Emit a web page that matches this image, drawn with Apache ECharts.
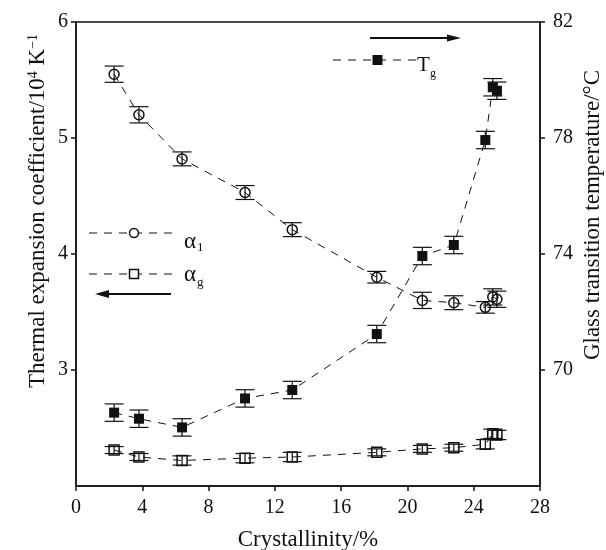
<!DOCTYPE html>
<html>
<head>
<meta charset="utf-8">
<script src="https://cdn.jsdelivr.net/npm/echarts@6/dist/echarts.min.js"></script>
<style>
  html, body { margin: 0; padding: 0; background: #fff; }
  #container { width: 606px; height: 550px; }
</style>
</head>
<body>
<div id="container"></div>
<script>
// crystallinity (%) of the samples
var crystallinity = [2.3, 3.8, 6.4, 10.2, 13.05, 18.15, 20.9, 22.8, 24.7, 25.15, 25.4];
// thermal expansion coefficient above Tg (alpha_l) and below Tg (alpha_g)
var alphaL = [5.55, 5.20, 4.82, 4.53, 4.21, 3.80, 3.60, 3.58, 3.54, 3.63, 3.61];
var alphaLErr = [0.07, 0.07, 0.06, 0.06, 0.06, 0.05, 0.07, 0.06, 0.05, 0.07, 0.07];
var alphaG = [2.31, 2.25, 2.22, 2.24, 2.25, 2.29, 2.32, 2.33, 2.36, 2.45, 2.44];
var alphaGErr = [0.03, 0.03, 0.04, 0.04, 0.04, 0.03, 0.03, 0.03, 0.04, 0.04, 0.04];
// glass transition temperature
var tg = [68.53, 68.32, 68.02, 69.02, 69.31, 71.24, 73.93, 74.31, 77.93, 79.75, 79.63];
var tgErr = [0.3, 0.3, 0.3, 0.3, 0.3, 0.3, 0.3, 0.3, 0.3, 0.3, 0.3];

var xTicks = { min: 0, max: 28, interval: 4 };
var leftTicks = { min: 2, max: 6, interval: 1 };
var rightTicks = { min: 66, max: 82, interval: 4 };

var font = 'Liberation Serif';
var ink = '#111';
var dash = [8, 7];

var dom = document.getElementById('container');
var myChart = echarts.init(dom);

function pairs(vals) {
  return crystallinity.map(function (x, i) { return [x, vals[i]]; });
}

function errBars(vals, errs, yIdx) {
  return {
    type: 'custom',
    yAxisIndex: yIdx,
    silent: true,
    z: 3,
    renderItem: function (params, api) {
      var x = api.value(0);
      var top = api.coord([x, api.value(2)]);
      var bot = api.coord([x, api.value(1)]);
      var w = 9.5;
      var st = { stroke: ink, lineWidth: 1.2 };
      return {
        type: 'group',
        children: [
          { type: 'line', shape: { x1: top[0], y1: top[1], x2: bot[0], y2: bot[1] }, style: st },
          { type: 'line', shape: { x1: top[0] - w, y1: top[1], x2: top[0] + w, y2: top[1] }, style: st },
          { type: 'line', shape: { x1: bot[0] - w, y1: bot[1], x2: bot[0] + w, y2: bot[1] }, style: st }
        ]
      };
    },
    data: crystallinity.map(function (x, i) { return [x, vals[i] - errs[i], vals[i] + errs[i]]; })
  };
}

function lineSeries(vals, yIdx, symbol, filled) {
  return {
    type: 'line',
    yAxisIndex: yIdx,
    data: pairs(vals),
    symbol: symbol,
    symbolSize: 10,
    z: 4,
    lineStyle: { color: ink, width: 1, type: dash },
    itemStyle: {
      color: filled ? ink : 'none',
      borderColor: ink,
      borderWidth: filled ? 0 : 1.5
    },
    emphasis: { disabled: true }
  };
}

// legend pieces drawn by hand like the original figure
function legendRow(y, markerType) {
  var items = [
    { type: 'line', shape: { x1: 89, y1: y, x2: 173, y2: y }, style: { stroke: ink, lineWidth: 1, lineDash: dash } }
  ];
  if (markerType === 'circle') {
    items.push({ type: 'circle', shape: { cx: 134, cy: y, r: 4.5 }, style: { fill: '#fff', stroke: ink, lineWidth: 1.5 } });
  } else {
    items.push({ type: 'rect', shape: { x: 129.5, y: y - 4.5, width: 9, height: 9 }, style: { fill: '#fff', stroke: ink, lineWidth: 1.5 } });
  }
  return items;
}

function txt(x, y, s, size, extra) {
  var style = { text: s, fontFamily: font, fontSize: size, fill: ink, verticalAlign: 'middle' };
  return Object.assign({ type: 'text', x: x, y: y, style: Object.assign(style, extra || {}) });
}

var graphics = [].concat(
  legendRow(233, 'circle'),
  legendRow(274, 'square'),
  [
    txt(184, 242, 'α', 23),
    txt(197, 248, '1', 13),
    txt(184, 275, 'α', 23),
    txt(197, 283, 'g', 13),
    // left arrow
    { type: 'line', shape: { x1: 171, y1: 294, x2: 104, y2: 294 }, style: { stroke: ink, lineWidth: 2 } },
    { type: 'polygon', shape: { points: [[95, 294], [109, 290], [109, 298]] }, style: { fill: ink } },
    // Tg legend
    { type: 'line', shape: { x1: 333, y1: 60, x2: 417, y2: 60 }, style: { stroke: ink, lineWidth: 1, lineDash: dash } },
    { type: 'rect', shape: { x: 372.5, y: 55, width: 10, height: 10 }, style: { fill: ink } },
    txt(417, 65, 'T', 21),
    txt(430, 74, 'g', 12),
    // right arrow
    { type: 'line', shape: { x1: 370, y1: 38, x2: 452, y2: 38 }, style: { stroke: ink, lineWidth: 2 } },
    { type: 'polygon', shape: { points: [[461, 38], [447, 34.5], [447, 41.5]] }, style: { fill: ink } }
  ]
);

// axis names
var leftName = txt(38, 211, 'Thermal expansion coefficient/10{s|4} K{s|−1}', 23, {
  align: 'center',
  rich: { s: { fontFamily: font, fontSize: 14, lineHeight: 14, verticalAlign: 'top', fill: ink } }
});
leftName.rotation = Math.PI / 2;
var rightName = txt(593, 215, 'Glass transition temperature/°C', 23, { align: 'center' });
rightName.rotation = Math.PI / 2;
var bottomName = txt(308, 540, 'Crystallinity/%', 23, { align: 'center' });
graphics.push(leftName, rightName, bottomName);

var axisCommon = {
  axisLine: { show: true, lineStyle: { color: ink, width: 1.5 } },
  axisTick: { show: true, length: 5, lineStyle: { color: ink, width: 1.5 } },
  splitLine: { show: false },
  axisLabel: { color: ink, fontFamily: font, fontSize: 20 }
};

var option = {
  animation: false,
  backgroundColor: '#fff',
  grid: { left: 76, right: 66, top: 22, bottom: 64, show: true, borderColor: ink, borderWidth: 1.5 },
  xAxis: Object.assign({}, axisCommon, {
    type: 'value', min: xTicks.min, max: xTicks.max, interval: xTicks.interval,
    axisLabel: Object.assign({}, axisCommon.axisLabel, { margin: 12 })
  }),
  yAxis: [
    Object.assign({}, axisCommon, {
      type: 'value', position: 'left', min: leftTicks.min, max: leftTicks.max, interval: leftTicks.interval,
      axisLabel: Object.assign({}, axisCommon.axisLabel, { margin: 8, showMinLabel: false })
    }),
    Object.assign({}, axisCommon, {
      type: 'value', position: 'right', min: rightTicks.min, max: rightTicks.max, interval: rightTicks.interval,
      axisLabel: Object.assign({}, axisCommon.axisLabel, { margin: 13, showMinLabel: false })
    })
  ],
  graphic: graphics,
  series: [
    lineSeries(alphaL, 0, 'circle', false),
    errBars(alphaL, alphaLErr, 0),
    lineSeries(alphaG, 0, 'rect', false),
    errBars(alphaG, alphaGErr, 0),
    lineSeries(tg, 1, 'rect', true),
    errBars(tg, tgErr, 1)
  ]
};

if (option && typeof option === 'object') {
  myChart.setOption(option, true);
}
</script>
</body>
</html>
